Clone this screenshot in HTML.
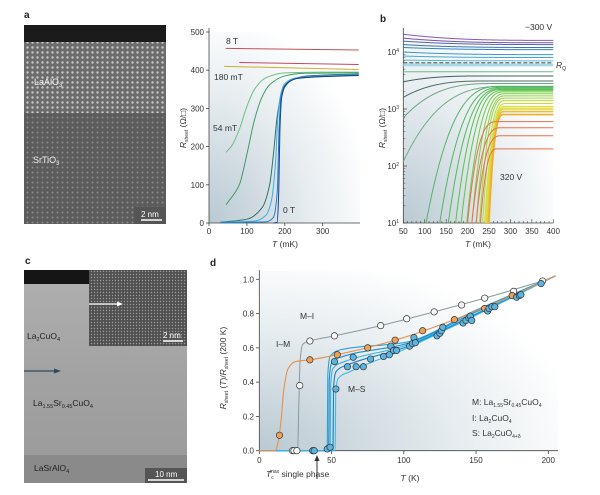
<!DOCTYPE html>
<html><head><meta charset="utf-8">
<style>
html,body{margin:0;padding:0;background:#fff;}
svg{display:block;font-family:"Liberation Sans",sans-serif;}
.tk{font-size:8px;fill:#333;}
.lb{font-size:8.5px;fill:#333;}
.pl{font-size:10px;font-weight:bold;fill:#222;}
</style></head>
<body>
<svg id="fig" width="600" height="495" viewBox="0 0 600 495" xmlns="http://www.w3.org/2000/svg">
<defs>
  <radialGradient id="bgA" cx="0" cy="1" r="1.1">
    <stop offset="0" stop-color="#b9c9d2"/><stop offset="0.6" stop-color="#e6ecef"/><stop offset="1" stop-color="#fff"/>
  </radialGradient>
  <pattern id="dotsL" width="5" height="5" patternUnits="userSpaceOnUse">
    <rect width="5" height="5" fill="#6c6c6c"/><circle cx="2.5" cy="2.5" r="1.2" fill="#c8c8c8"/>
  </pattern>
  <pattern id="dotsS" width="5" height="5" patternUnits="userSpaceOnUse">
    <rect width="5" height="5" fill="#5c5c5c"/><circle cx="2.5" cy="2.5" r="1.0" fill="#8c8c8c"/>
  </pattern>
  <pattern id="dotsI" width="3" height="3" patternUnits="userSpaceOnUse">
    <rect width="3" height="3" fill="#505050"/><circle cx="1.5" cy="1.5" r="0.7" fill="#999"/>
  </pattern>
  <linearGradient id="cbg" x1="0" y1="0" x2="0" y2="1">
    <stop offset="0" stop-color="#b0b0b0"/><stop offset="0.5" stop-color="#a2a2a2"/><stop offset="1" stop-color="#9a9a9a"/>
  </linearGradient>
</defs>

<text class="pl" x="24" y="18">a</text>
<g>
  <rect x="24" y="25" width="142" height="199" fill="url(#dotsS)"/>
  <rect x="24" y="42" width="142" height="71" fill="url(#dotsL)"/>
  <rect x="24" y="25" width="142" height="17" fill="#1b1b1b"/>
  <text x="34" y="85" font-size="9" fill="#eee">LaAlO<tspan font-size="6" dy="2">3</tspan></text>
  <text x="33" y="163" font-size="9" fill="#eee">SrTiO<tspan font-size="6" dy="2">3</tspan></text>
  <rect x="134" y="207" width="32" height="17" fill="#555"/>
  <text x="141" y="217" font-size="8" fill="#fff">2 nm</text>
  <line x1="141" y1="220" x2="162" y2="220" stroke="#fff" stroke-width="1.5"/>
</g>

<text class="pl" x="25" y="264">c</text>
<g>
  <rect x="24" y="270" width="163" height="213" fill="url(#cbg)"/>
  <rect x="24" y="455" width="163" height="28" fill="#8a8a8a"/>
  <rect x="24" y="270" width="65" height="14" fill="#151515"/>
  <rect x="89" y="270" width="98" height="76" fill="url(#dotsI)"/>
  <line x1="89" y1="304" x2="118" y2="304" stroke="#fff" stroke-width="1.3"/>
  <polygon points="123,304 117,301.5 117,306.5" fill="#fff"/>
  <text x="163" y="338" font-size="8" fill="#fff">2 nm</text>
  <line x1="163" y1="341" x2="183" y2="341" stroke="#fff" stroke-width="1.5"/>
  <line x1="24" y1="371" x2="55" y2="371" stroke="#2e4a60" stroke-width="1.3"/>
  <polygon points="61,371 54,368.5 54,373.5" fill="#2e4a60"/>
  <text x="27" y="339" font-size="8.5" fill="#222">La<tspan font-size="5.5" dy="2">2</tspan><tspan dy="-2">CuO</tspan><tspan font-size="5.5" dy="2">4</tspan></text>
  <text x="33" y="406" font-size="8.5" fill="#222">La<tspan font-size="5.5" dy="2">1.55</tspan><tspan dy="-2">Sr</tspan><tspan font-size="5.5" dy="2">0.45</tspan><tspan dy="-2">CuO</tspan><tspan font-size="5.5" dy="2">4</tspan></text>
  <text x="34" y="471" font-size="8.5" fill="#222">LaSrAlO<tspan font-size="5.5" dy="2">4</tspan></text>
  <rect x="145" y="468" width="42" height="15" fill="#555"/>
  <text x="155" y="477" font-size="8" fill="#fff">10 nm</text>
  <line x1="148" y1="480" x2="184" y2="480" stroke="#fff" stroke-width="1.5"/>
</g>

<rect x="209" y="32" width="151" height="191" fill="url(#bgA)"/>
<g id="ga"></g>
<text class="pl" x="380" y="22">b</text>
<rect x="403" y="30" width="150" height="193" fill="url(#bgA)"/>
<g id="gb"></g>
<text class="pl" x="210" y="266">d</text>
<rect x="259" y="271" width="299" height="180" fill="url(#bgA)"/>
<g id="gd"></g>
</svg>

<script>
// ---------- Panel a data ----------
const aTicksX = [0,100,200,300];
const aTicksY = [0,100,200,300,400,500];
const aFlat8T = [[44,457],[395,453]];
const aFlatMid = [[80,420],[395,415]];
const aFlat180 = [[40,410],[395,402]];
const aCurve1 = [[45,185],[60,202],[80,245],[100,305],[120,350],[150,380],[200,393],[300,395],[395,395]];
const aCurve2 = [[45,48],[80,100],[100,180],[120,270],[140,330],[160,362],[200,385],[250,392],[395,393]];
const aCurve3 = [[30,2],[100,10],[140,40],[160,100],[170,180],[180,280],[190,332],[200,356],[220,375],[260,385],[395,390]];
const aCurve4 = [[30,2],[120,5],[150,20],[165,60],[175,150],[182,280],[190,340],[200,365],[230,380],[395,388]];
const aCurve5 = [[30,1],[150,3],[170,15],[180,80],[185,250],[190,330],[200,360],[230,378],[395,387]];
const aCurve6 = [[170,0],[180,2],[184,80],[187,240],[192,330],[205,365],[240,380],[395,386]];

// ---------- Panel b data ----------
const bTicksX = [50,100,150,200,250,300,350,400];
const bDecades = [1,2,3,4];
const bStartT = [50,50,50,50,50,50,50,50, 50,50,50,50,50, 103,135,155,172,185,198,210,220,228,235,240,243,246,248,250, 200,210,220,230];
const bStartR = [20500,17500,15500,13500,12000,10000,8500,7200, 4500,3000,1600,700,120, 10,10,10,10,10,10,10,10,10,10,10,10,10,10,10, 10,10,10,10];
const bEndR   = [16000,14500,13500,12000,11000,9000,8000,7000, 4500,3800,3100,2800,2500, 2500,2400,2300,2200,2100,2000,1850,1700,1550,1400,1250,1100,1000,900,800, 600,470,340,200];
const bWidth  = [350,350,350,350,350,350,350,350, 350,200,200,220,250, 180,150,130,110,100,90,80,70,60,55,50,45,40,38,35, 70,70,60,40];
const bRQ = 6450;

// ---------- Panel d data ----------
const dTicksX = [0,50,100,150,200];
const dTicksY = [0,0.2,0.4,0.6,0.8,1.0];
const dGrayLine = [[22,0],[26.5,0],[27.3,0.25],[28.2,0.52],[30,0.62],[35,0.64],[52,0.67],[84,0.73],[121,0.81],[156,0.89],[196,0.99]];
const dGrayPts = [[23,0],[24,0],[26,0],[28,0.38],[35,0.64],[52,0.67],[84,0.73],[102,0.77],[121,0.81],[140,0.85],[156,0.89],[176,0.93],[196,0.99]];
const dOrangeLine = [[0,0],[11,0],[13,0.05],[15,0.17],[17,0.36],[20,0.48],[25,0.52],[35,0.53],[54,0.56],[94,0.645],[135,0.765],[175,0.905],[205,1.02]];
const dOrangePts = [[14,0.09],[35,0.53],[54,0.56],[75,0.60],[94,0.645],[113,0.70],[135,0.765],[156,0.83],[175,0.905]];
const dBlueTc = [47,48,49,51,52.5];
const dBlueKnee = [0.55,0.51,0.48,0.46,0.42];
const dBlueMid = [0.63,0.62,0.61,0.60,0.59];
const dBlue150 = [0.82,0.81,0.80,0.795,0.79];
const dBluePts = [[37,0],[38,0],[47,0.01],[49,0.02],[52,0.52],[53,0.36],[61,0.49],[65,0.545],[67,0.49],[72,0.49],[77,0.535],[86,0.55],[90,0.56],[91,0.61],[93,0.585],[95,0.585],[104,0.61],[106,0.625],[107,0.66],[108,0.63],[123,0.67],[125,0.685],[126,0.70],[127,0.72],[141,0.745],[143,0.76],[145,0.775],[146,0.785],[147,0.76],[158,0.815],[159,0.83],[161,0.84],[163,0.84],[178,0.895],[180,0.905],[181,0.91],[195,0.975]];

// ---------- helpers ----------
const NS = "http://www.w3.org/2000/svg";
function mk(parent, tag, attrs){const e=document.createElementNS(NS,tag);for(const k in attrs)e.setAttribute(k,attrs[k]);parent.appendChild(e);return e;}
// monotone cubic (Fritsch-Carlson) path through pixel points with increasing x
function smooth(pts){
  const n=pts.length;
  if(n<3)return "M"+pts.map(p=>p[0].toFixed(2)+","+p[1].toFixed(2)).join("L");
  const dx=[],sl=[];
  for(let i=0;i<n-1;i++){dx.push(Math.max(1e-6,pts[i+1][0]-pts[i][0]));sl.push((pts[i+1][1]-pts[i][1])/dx[i]);}
  const m=[sl[0]];
  for(let i=1;i<n-1;i++){ if(sl[i-1]*sl[i]<=0)m.push(0); else{const w1=2*dx[i]+dx[i-1],w2=dx[i]+2*dx[i-1];m.push((w1+w2)/(w1/sl[i-1]+w2/sl[i]));}}
  m.push(sl[n-2]);
  let d="M"+pts[0][0].toFixed(2)+","+pts[0][1].toFixed(2);
  for(let i=0;i<n-1;i++){
    const h=dx[i]/3;
    d+="C"+(pts[i][0]+h).toFixed(2)+","+(pts[i][1]+m[i]*h).toFixed(2)+" "+(pts[i+1][0]-h).toFixed(2)+","+(pts[i+1][1]-m[i+1]*h).toFixed(2)+" "+pts[i+1][0].toFixed(2)+","+pts[i+1][1].toFixed(2);
  }
  return d;
}

// ---------- Panel a ----------
const xa = T => 209 + T*0.379;
const ya = R => 223 - R*0.382;
const ga = document.getElementById('ga');
(function(){
  let ax = mk(ga,'path',{d:`M209,28V223H360`,stroke:'#444','stroke-width':0.8,fill:'none'});
  
  
  aTicksX.forEach(t=>{
    mk(ga,'line',{x1:xa(t),x2:xa(t),y1:223,y2:226,stroke:'#444','stroke-width':0.8});
    const tx=mk(ga,'text',{x:xa(t),y:234,'text-anchor':'middle',class:'tk'});tx.textContent=t;
    
    
  });
  aTicksY.forEach(t=>{
    mk(ga,'line',{x1:206,x2:209,y1:ya(t),y2:ya(t),stroke:'#444','stroke-width':0.8});
    const tx=mk(ga,'text',{x:204,y:ya(t)+3,'text-anchor':'end',class:'tk'});tx.textContent=t;
    
    
  });
  const series=[[aFlat8T,'#c0505a'],[aFlatMid,'#c04a6a'],[aFlat180,'#c8b030'],[aCurve1,'#6cbf84'],[aCurve2,'#3f9a6a'],[aCurve3,'#2f6f6a'],[aCurve4,'#3aaee0'],[aCurve5,'#1f7fc8'],[aCurve6,'#1d3f8a']];
  series.forEach((s,i)=>{
    const p=mk(ga,'path',{d:smooth(s[0].map(q=>[xa(q[0]),ya(q[1])])),stroke:s[1],'stroke-width':1,fill:'none'});
    
    
  });
  const labs=[['8 T',226,44],['180 mT',214,80],['54 mT',213,131],['0 T',283,213]];
  labs.forEach(l=>{const t=mk(ga,'text',{x:l[1],y:l[2],class:'lb'});t.textContent=l[0];
    
    });
  const yl=mk(ga,'text',{transform:'translate(186,128) rotate(-90)','text-anchor':'middle',class:'lb'});
  yl.innerHTML='<tspan font-style="italic">R</tspan><tspan font-size="5" dy="2">sheet</tspan><tspan dy="-2"> (Ω/□)</tspan>';
  
  
  const xl=mk(ga,'text',{x:285,y:247,'text-anchor':'middle',class:'lb'});
  xl.innerHTML='<tspan font-style="italic">T</tspan> (mK)';
  
  
})();

// ---------- Panel b ----------
const xb = T => 403.3 + (T-50)*150/350;
const yb = R => 223 - (Math.log10(R)-1)*57;
const gb = document.getElementById('gb');
(function(){
  const ax=mk(gb,'path',{d:'M403.3,28V223H553.3',stroke:'#444','stroke-width':0.8,fill:'none'});
  
  
  for(let t=50;t<=400;t+=10){mk(gb,'line',{x1:xb(t),x2:xb(t),y1:223,y2:t%50===0?219:221,stroke:'#444','stroke-width':0.6});}
  bTicksX.forEach(t=>{const tx=mk(gb,'text',{x:xb(t),y:234,'text-anchor':'middle',class:'tk'});tx.textContent=t;
    
    });
  bDecades.forEach(d=>{
    const tx=mk(gb,'text',{x:399,y:yb(Math.pow(10,d))+3,'text-anchor':'end',class:'tk'});
    tx.innerHTML='10<tspan font-size="5" dy="-3">'+d+'</tspan>';
    
    
    mk(gb,'line',{x1:403.3,x2:407,y1:yb(Math.pow(10,d)),y2:yb(Math.pow(10,d)),stroke:'#444','stroke-width':0.7});
    if(d<4)for(let m=2;m<10;m++){const y=yb(m*Math.pow(10,d));mk(gb,'line',{x1:403.3,x2:405.3,y1:y,y2:y,stroke:'#444','stroke-width':0.5});}
  });
  const band=mk(gb,'rect',{x:403.3,y:yb(6300),width:150,height:yb(5600)-yb(6300),fill:'#a6d8e6'});
  
  
  const topCols=['#8a5bab','#6f5aa8','#5565a8','#3f72ae','#2e84bf','#3a98cf','#47a8d6','#5ab6da'];
  for(let i=0;i<bStartT.length;i++){
    const pts=[];
    const l0=Math.log10(bStartR[i]),l1=Math.log10(bEndR[i]);
    for(let T=bStartT[i];T<=400.01;T+=1){
      let u=Math.min(1,(T-bStartT[i])/bWidth[i]);
      const s=1-Math.pow(1-u,3);
      pts.push([xb(T),yb(Math.pow(10,l0+(l1-l0)*s))]);
    }
    let col;
    if(i<8)col=topCols[i];
    else if(i<13)col=['#6cb98c','#3d5f5c','#4d6d66','#6aa884','#70ae88'][i-8];
    else if(i<28){const k=(i-13)/14;col='hsl('+(135-k*95)+','+(38+k*45)+'%,'+(52+k*4)+'%)';}
    else col='#e8704a';
    const p=mk(gb,'path',{d:'M'+pts.map(q=>q[0].toFixed(2)+','+q[1].toFixed(2)).join('L'),stroke:col,'stroke-width':i>=24&&i<28?1.6:1,fill:'none'});
    
    
  }
  const rq=mk(gb,'line',{x1:403.3,x2:553.3,y1:yb(bRQ),y2:yb(bRQ),stroke:'#333','stroke-width':0.9,'stroke-dasharray':'4,2'});
  
  
  const labs=[['−300 V',525,30],['320 V',500,180]];
  labs.forEach(l=>{const t=mk(gb,'text',{x:l[1],y:l[2],class:'lb'});t.textContent=l[0];
    
    });
  const rqt=mk(gb,'text',{x:556,y:68,class:'lb'});rqt.innerHTML='<tspan font-style="italic">R</tspan><tspan font-size="5" dy="2">Q</tspan>';
  
  
  const yl=mk(gb,'text',{transform:'translate(385,128) rotate(-90)','text-anchor':'middle',class:'lb'});
  yl.innerHTML='<tspan font-style="italic">R</tspan><tspan font-size="5" dy="2">sheet</tspan><tspan dy="-2"> (Ω/□)</tspan>';
  
  
  const xl=mk(gb,'text',{x:478,y:247,'text-anchor':'middle',class:'lb'});
  xl.innerHTML='<tspan font-style="italic">T</tspan> (mK)';
  
  
})();

// ---------- Panel d ----------
const xd = T => 259.3 + T*1.445;
const yd = v => 450.7 - v*171.4;
const gd = document.getElementById('gd');
(function(){
  const ax=mk(gd,'path',{d:'M259.3,270V450.7H558',stroke:'#444','stroke-width':0.8,fill:'none'});
  
  
  dTicksX.forEach(t=>{mk(gd,'line',{x1:xd(t),x2:xd(t),y1:450.7,y2:454,stroke:'#444','stroke-width':0.8});
    const tx=mk(gd,'text',{x:xd(t),y:463,'text-anchor':'middle',class:'tk'});tx.textContent=t;
    
    });
  dTicksY.forEach(t=>{mk(gd,'line',{x1:256,x2:259.3,y1:yd(t),y2:yd(t),stroke:'#444','stroke-width':0.8});
    const tx=mk(gd,'text',{x:254,y:yd(t)+3,'text-anchor':'end',class:'tk'});tx.textContent=t.toFixed(1);
    
    });
  const blueCols=['#2aa0d8','#1e8fcf','#35b0e0','#1a7fc0','#40b8e8'];
  dBlueTc.forEach((tc,i)=>{
    const pts=[[0,0],[tc,0],[tc+0.4,dBlueKnee[i]*0.8],[tc+2,dBlueKnee[i]],[tc+10,dBlueKnee[i]+0.04],[100,dBlueMid[i]],[150,dBlue150[i]],[205,1.02]];
    const p=mk(gd,'path',{d:smooth(pts.map(q=>[xd(q[0]),yd(q[1])])),stroke:blueCols[i],'stroke-width':1.1,fill:'none'});
    
    
  });
  const g=mk(gd,'path',{d:smooth(dGrayLine.map(q=>[xd(q[0]),yd(q[1])])),stroke:'#8a9a9a','stroke-width':1,fill:'none'});
  
  
  const o=mk(gd,'path',{d:smooth(dOrangeLine.map(q=>[xd(q[0]),yd(q[1])])),stroke:'#e8904a','stroke-width':1.1,fill:'none'});
  
  
  const mkPts=(arr,fill,name)=>arr.forEach(q=>{
    const c=mk(gd,'circle',{cx:xd(q[0]),cy:yd(q[1]),r:3.2,fill:fill,stroke:'#333','stroke-width':0.7});
    
    
  });
  mkPts(dGrayPts,'#f4f6f6','d-gray-point');
  mkPts(dOrangePts,'#f0a055','d-orange-point');
  mkPts(dBluePts,'#5ab4e0','d-blue-point');
  const labs=[['M–I',300,319],['I–M',276,347],['M–S',348,392]];
  labs.forEach(l=>{const t=mk(gd,'text',{x:l[1],y:l[2],class:'lb'});t.textContent=l[0];
    
    });
  const leg=[['M: La<tspan font-size="5" dy="2">1.55</tspan><tspan dy="-2">Sr</tspan><tspan font-size="5" dy="2">0.45</tspan><tspan dy="-2">CuO</tspan><tspan font-size="5" dy="2">4</tspan>',405],
             ['I: La<tspan font-size="5" dy="2">2</tspan><tspan dy="-2">CuO</tspan><tspan font-size="5" dy="2">4</tspan>',421],
             ['S: La<tspan font-size="5" dy="2">2</tspan><tspan dy="-2">CuO</tspan><tspan font-size="5" dy="2">4+δ</tspan>',436]];
  leg.forEach(l=>{const t=mk(gd,'text',{x:472,y:l[1],class:'lb'});t.innerHTML=l[0];
    
    });
  const yl=mk(gd,'text',{transform:'translate(226,368) rotate(-90)','text-anchor':'middle',class:'lb'});
  yl.innerHTML='<tspan font-style="italic">R</tspan><tspan font-size="5" dy="2">sheet</tspan><tspan dy="-2"> (</tspan><tspan font-style="italic">T</tspan>)/<tspan font-style="italic">R</tspan><tspan font-size="5" dy="2">sheet</tspan><tspan dy="-2"> (200 K)</tspan>';
  
  
  const xl=mk(gd,'text',{x:410,y:481,'text-anchor':'middle',class:'lb'});
  xl.innerHTML='<tspan font-style="italic">T</tspan> (K)';
  
  
  const tc=mk(gd,'text',{x:266,y:477,class:'lb'});
  tc.innerHTML='<tspan font-style="italic">T</tspan><tspan font-size="5" dy="2">c</tspan><tspan font-size="5" dy="-6" dx="-4">max</tspan><tspan dy="4"> single phase</tspan>';
  
  
  const ar=mk(gd,'line',{x1:317,x2:317,y1:479,y2:460,stroke:'#333','stroke-width':1});
  
  
  mk(gd,'polygon',{points:'317,455 314.5,461 319.5,461',fill:'#333'});
})();
</script>
</body></html>
